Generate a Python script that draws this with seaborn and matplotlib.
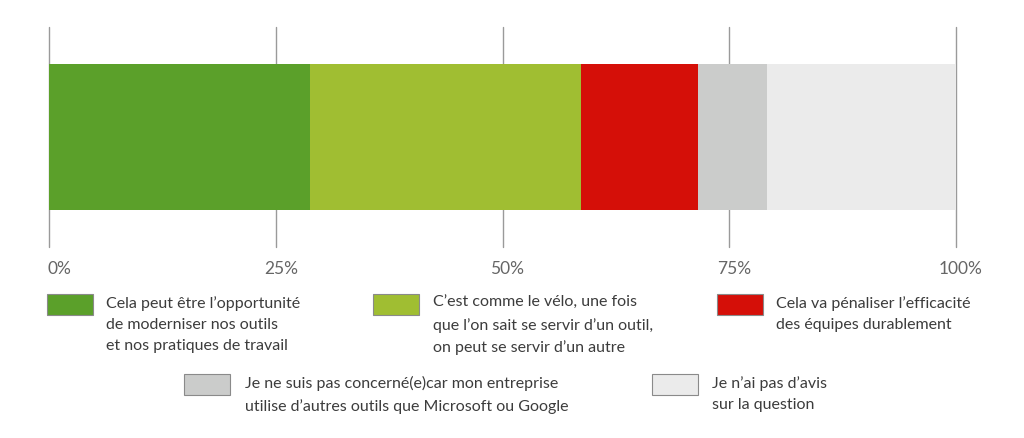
import matplotlib
matplotlib.use("Agg")
import matplotlib.pyplot as plt
from matplotlib.patches import Rectangle
from matplotlib.transforms import ScaledTranslation
import seaborn as sns
import numpy as np
import pandas as pd

# ---- data ----
categories = [
    "Cela peut être l’opportunité\nde moderniser nos outils\net nos pratiques de travail",
    "C’est comme le vélo, une fois\nque l’on sait se servir d’un outil,\non peut se servir d’un autre",
    "Cela va pénaliser l’efficacité\ndes équipes durablement",
    "Je ne suis pas concerné(e)car mon entreprise\nutilise d’autres outils que Microsoft ou Google",
    "Je n’ai pas d’avis\nsur la question",
]
values = [28.8, 29.9, 12.9, 7.6, 20.8]
tick_values = [0, 25, 50, 75, 100]
tick_labels = ["0%", "25%", "50%", "75%", "100%"]
colors = ["#5ba02a", "#a0be32", "#d50f08", "#cbcccb", "#ebebeb"]

sns.set_theme(style="white")
FONT = ["Lato", "DejaVu Sans"]
plt.rcParams["font.family"] = FONT
FS = 11.5
FS_TICK = 12.5

W, H = 1024, 439
fig = plt.figure(figsize=(W / 100, H / 100), dpi=100)
ax = fig.add_axes([49 / W, (H - 248) / H, (956 - 49) / W, 220 / H])

cum = np.cumsum(values)
df = pd.DataFrame({"cat": categories, "cum": cum, "row": ["r"] * len(values)})
for i in reversed(range(len(values))):
    sns.barplot(data=df.iloc[[i]], x="cum", y="row", orient="h",
                color=colors[i], width=1.0, ax=ax, saturation=1,
                linewidth=0, zorder=2)

ax.set_xlim(0, 100)
ax.set_ylim(0.75, -0.75)
ax.set_xticks(tick_values)
ax.set_xticklabels(tick_labels)
ax.set_yticks([])
ax.set_xlabel("")
ax.set_ylabel("")
for s in ax.spines.values():
    s.set_visible(False)
ax.grid(False)
for t in tick_values:
    ax.axvline(t, color="#9a9a9a", lw=1.0, zorder=1, clip_on=False)
ax.tick_params(axis="x", length=0, pad=9, labelsize=FS_TICK, labelcolor="#666666")
for k, lbl in enumerate(ax.get_xticklabels()):
    lbl.set_family(FONT)
    if k == 0:
        lbl.set_ha("left")
        dx = -2
    else:
        dx = 5
    lbl.set_transform(lbl.get_transform() + ScaledTranslation(dx / 100, 0, fig.dpi_scale_trans))

# ---- legend ----
legend_pos = [
    (47, 295, 106),
    (373, 295, 433),
    (717, 295, 776),
    (184, 375, 245),
    (652, 375, 712),
]
for (px, py, tx), col, lab in zip(legend_pos, colors, categories):
    r = Rectangle((px / W, 1 - (py + 21) / H), 46 / W, 21 / H,
                  transform=fig.transFigure, facecolor=col,
                  edgecolor="#8a8a8a", lw=0.8)
    fig.add_artist(r)
    fig.text(tx / W, 1 - (py + 1) / H, lab, ha="left", va="top",
             fontsize=FS, color="#3c3c3c", linespacing=1.65, family=FONT)

fig.savefig("out.png", dpi=100, facecolor="white")
